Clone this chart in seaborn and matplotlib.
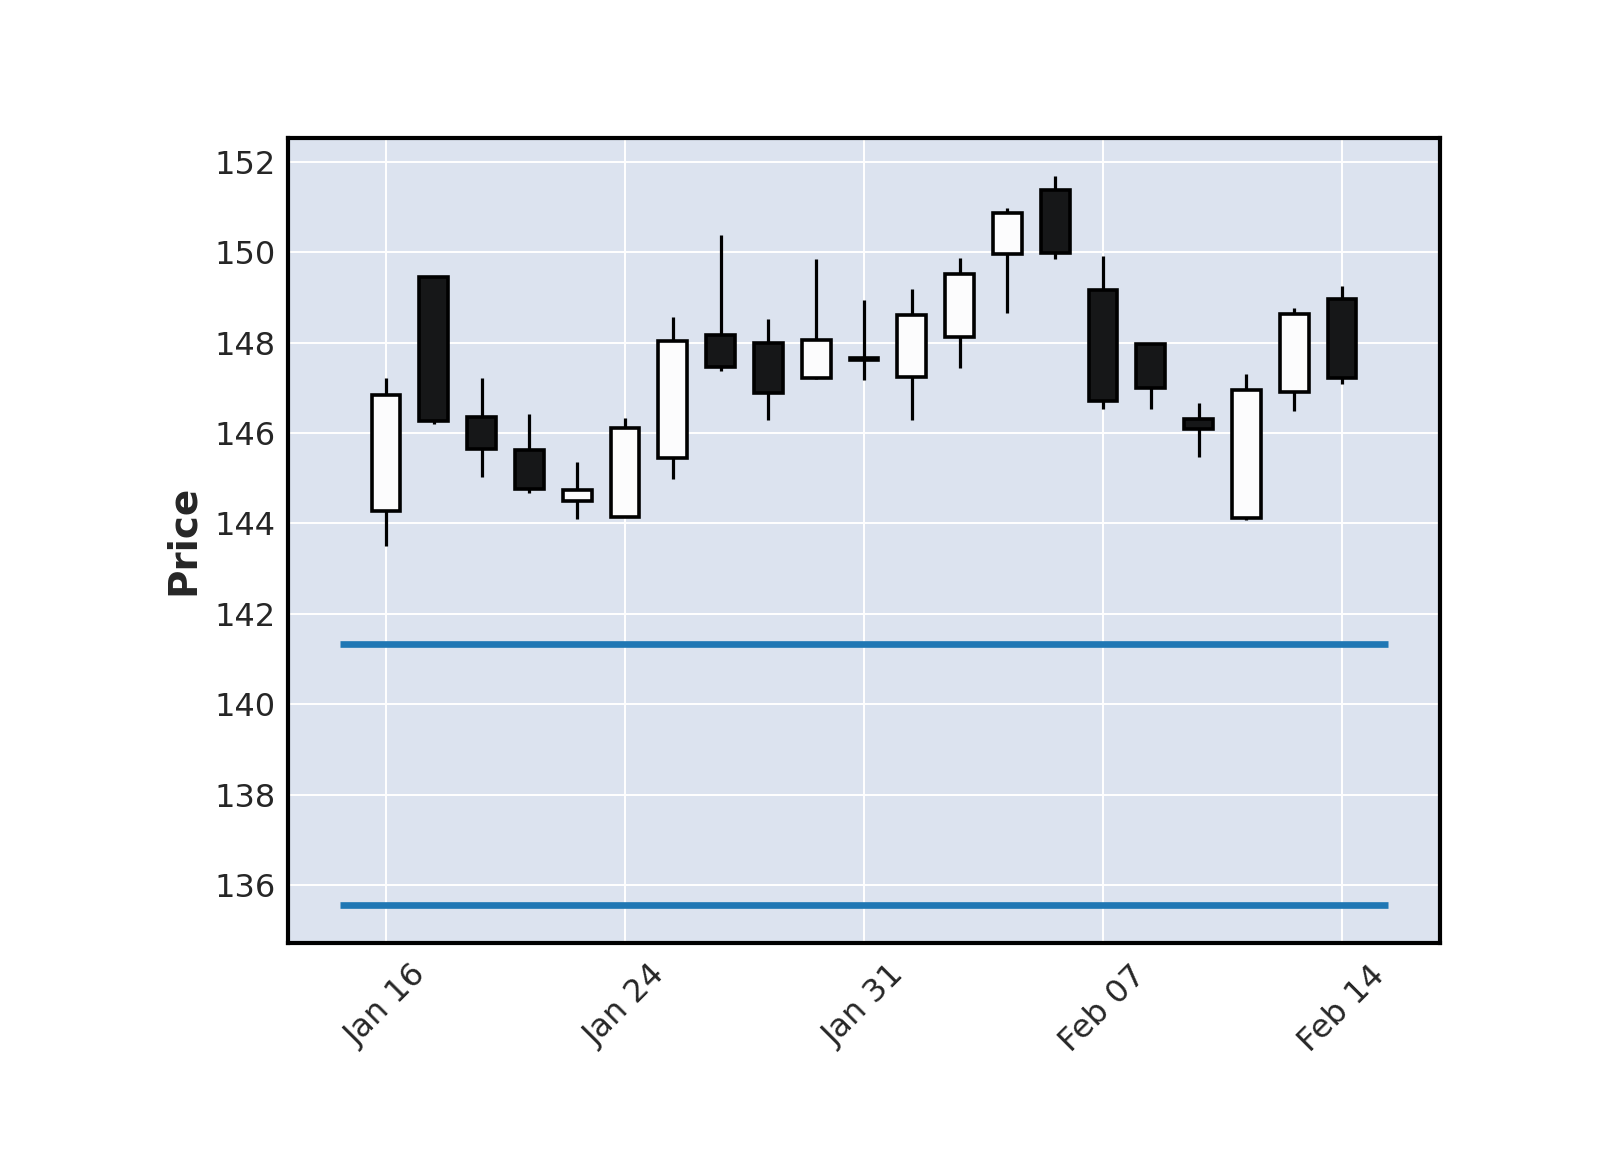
import numpy as np
import pandas as pd
import matplotlib
matplotlib.use("Agg")
import matplotlib.pyplot as plt
import seaborn as sns

# ---- data ----
opens  = [144.27, 149.46, 146.36, 145.62, 144.50, 144.15, 145.45, 148.17, 148.00, 147.21,
          147.61, 147.24, 148.13, 149.95, 151.37, 149.16, 147.97, 146.30, 144.11, 146.91, 148.96]
highs  = [147.22, 149.47, 147.21, 146.41, 145.35, 146.34, 148.57, 150.38, 148.52, 149.85,
          148.94, 149.18, 149.88, 150.98, 151.69, 149.92, 147.98, 146.67, 147.30, 148.76, 149.25]
lows   = [143.50, 146.19, 145.03, 144.66, 144.10, 144.13, 144.98, 147.38, 146.29, 147.20,
          147.17, 146.29, 147.43, 148.65, 149.84, 146.54, 146.52, 145.46, 144.07, 146.48, 147.08]
closes = [146.84, 146.26, 145.64, 144.76, 144.74, 146.10, 148.03, 147.46, 146.88, 148.06,
          147.65, 148.61, 149.52, 150.87, 149.99, 146.71, 147.00, 146.08, 146.95, 148.63, 147.22]
tick_labels = ["Jan 16", "Jan 24", "Jan 31", "Feb 07", "Feb 14"]
tick_index = [0, 5, 10, 15, 20]
hline_levels = [141.33, 135.55]

df = pd.DataFrame({"Open": opens, "High": highs, "Low": lows, "Close": closes})
df["idx"] = np.arange(len(df))

sns.set_theme(style="darkgrid", rc={
    "axes.facecolor": "#DCE3EF",
    "axes.edgecolor": "black",
    "axes.linewidth": 1.5,
    "grid.color": "white",
    "grid.linewidth": 0.7,
    "figure.facecolor": "white",
})
plt.rcParams["font.family"] = ["DejaVu Sans"]

fig = plt.figure(figsize=(8, 5.75), dpi=200)
ax = fig.add_axes([0.1797, 0.18, 0.72, 0.7004])
ax.set_axisbelow(True)

up = df["Close"] >= df["Open"]
body_bottom = np.minimum(df["Open"], df["Close"])
body_height = np.abs(df["Close"] - df["Open"])
face = np.where(up, "#FCFCFD", "#161718")

ax.vlines(df["idx"], df["Low"], df["High"], color="black", linewidth=1.15, zorder=2)
ax.bar(df["idx"], body_height, bottom=body_bottom, width=0.6, color=face,
       edgecolor="black", linewidth=1.3, zorder=3)

for lvl in hline_levels:
    sns.lineplot(x=[-0.96, 20.96], y=[lvl, lvl], color="#1f77b4", linewidth=2.4,
                 solid_capstyle="butt", ax=ax, zorder=4)

ax.set_xlim(-2.06, 22.04)
ax.set_ylim(134.715, 152.535)
ax.set_yticks(np.arange(136, 153, 2))
ax.set_xticks(tick_index)
ax.set_xticklabels(tick_labels, rotation=45)
ax.tick_params(axis="y", labelsize=11.5, colors="#262626", length=0, pad=4.2)
ax.tick_params(axis="x", labelsize=11.5, colors="#262626", length=0, pad=6)
ax.set_ylabel("Price", fontsize=14, fontweight="bold", color="#262626", labelpad=4.4)
ax.set_xlabel("")
for s in ax.spines.values():
    s.set_color("black")
    s.set_linewidth(1.5)

fig.savefig("out.png", dpi=200)
